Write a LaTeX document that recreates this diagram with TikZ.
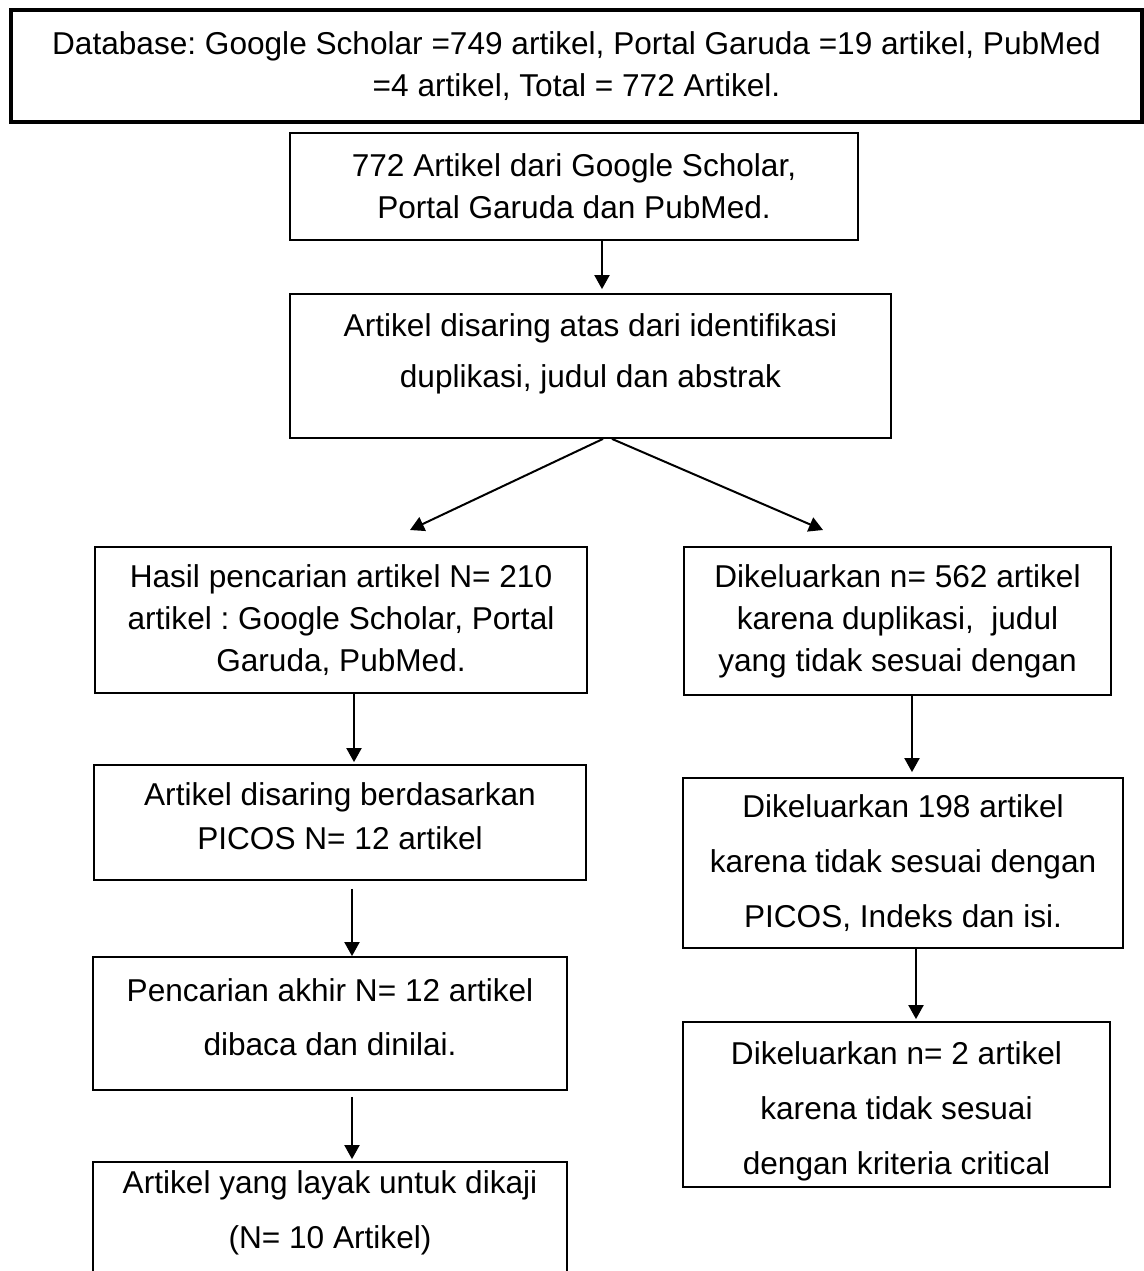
\documentclass[tikz,border=0pt]{standalone}
\usepackage{fontspec}
\setmainfont{Liberation Sans}
\usetikzlibrary{arrows.meta}
\newcommand{\lowpad}[1]{\rule[-#1]{0pt}{#1}}
\newcommand{\highpad}[1]{\rule{0pt}{#1}}
\tikzset{
  stepbox/.style={draw=black, line width=0.9pt, align=center, inner sep=0pt},
  headbox/.style={stepbox, line width=2.2pt},
  spaced/.style={font=\fontsize{15.8}{#1}\selectfont},
  flow/.style={-{Triangle[length=7pt, width=7.5pt]}, line width=1pt},
  every node/.append style={font=\fontsize{15.8}{21}\selectfont}
}

\begin{document}
\frenchspacing
\begin{tikzpicture}[x=0.5pt, y=-0.5pt]
\useasboundingbox (0,0) rectangle (1144,1271);
\node[headbox, minimum width=565.5pt, minimum height=56pt] (db) at (576.5,66)
  {Database: Google Scholar =749 artikel, Portal Garuda =19 artikel, PubMed\\=4 artikel, Total = 772 Artikel.};
\node[stepbox, minimum width=284pt, minimum height=53.5pt] (src) at (574,186.5)
  {772 Artikel dari Google Scholar,\\Portal Garuda dan PubMed.};
\node[stepbox, spaced=25.5pt, minimum width=300.5pt, minimum height=72pt] (screen) at (590.5,366)
  {Artikel disaring atas dari identifikasi\\duplikasi, judul dan abstrak\lowpad{15pt}};
% left column
\node[stepbox, minimum width=246pt, minimum height=73pt] (hasil) at (341,620)
  {Hasil pencarian artikel N= 210\\artikel : Google Scholar, Portal\\Garuda, PubMed.};
\node[stepbox, spaced=22pt, minimum width=246pt, minimum height=57.5pt] (picos) at (340,822.5)
  {Artikel disaring berdasarkan\\PICOS N= 12 artikel\lowpad{6pt}};
\node[stepbox, spaced=27pt, minimum width=237pt, minimum height=66.5pt] (akhir) at (330,1023.5)
  {Pencarian akhir N= 12 artikel\\dibaca dan dinilai.\lowpad{6.5pt}};
\node[stepbox, spaced=27.5pt, minimum width=237pt, minimum height=70pt] (layak) at (330,1232)
  {Artikel yang layak untuk dikaji\\(N= 10 Artikel)\lowpad{22pt}};
% right column
\node[stepbox, minimum width=213.5pt, minimum height=74pt] (out1) at (897.5,621)
  {Dikeluarkan n= 562 artikel\\karena duplikasi,\ \ judul\\yang tidak sesuai dengan};
\node[stepbox, spaced=27.5pt, minimum width=220pt, minimum height=85pt] (out2) at (903,863)
  {Dikeluarkan 198 artikel\\karena tidak sesuai dengan\\PICOS, Indeks dan isi.};
\node[stepbox, spaced=27.5pt, minimum width=213.5pt, minimum height=82.5pt] (out3) at (896.5,1104.5)
  {\highpad{18pt}Dikeluarkan n= 2 artikel\\karena tidak sesuai\\dengan kriteria critical};
\coordinate (tipL) at (410,530);
\coordinate (tipR) at (823,530);
\draw[flow, shorten >=2pt] ([xshift=14pt]src.south) -- ([xshift=14pt]src.south |- screen.north);
\draw[flow] ([xshift=6.25pt]screen.south) -- (tipL);
\draw[flow] ([xshift=10.75pt]screen.south) -- (tipR);
\draw[flow, shorten >=1pt] ([xshift=6.5pt]hasil.south) -- ([xshift=6.5pt]hasil.south |- picos.north);
\draw[flow, shorten <=4pt] ([xshift=6pt]picos.south) -- ([xshift=6pt]picos.south |- akhir.north);
\draw[flow, shorten <=3pt, shorten >=1pt] ([xshift=11pt]akhir.south) -- ([xshift=11pt]akhir.south |- layak.north);
\draw[flow, shorten >=2.5pt] ([xshift=7.25pt]out1.south) -- ([xshift=7.25pt]out1.south |- out2.north);
\draw[flow, shorten >=1pt] ([xshift=6.5pt]out2.south) -- ([xshift=6.5pt]out2.south |- out3.north);
\end{tikzpicture}
\end{document}
